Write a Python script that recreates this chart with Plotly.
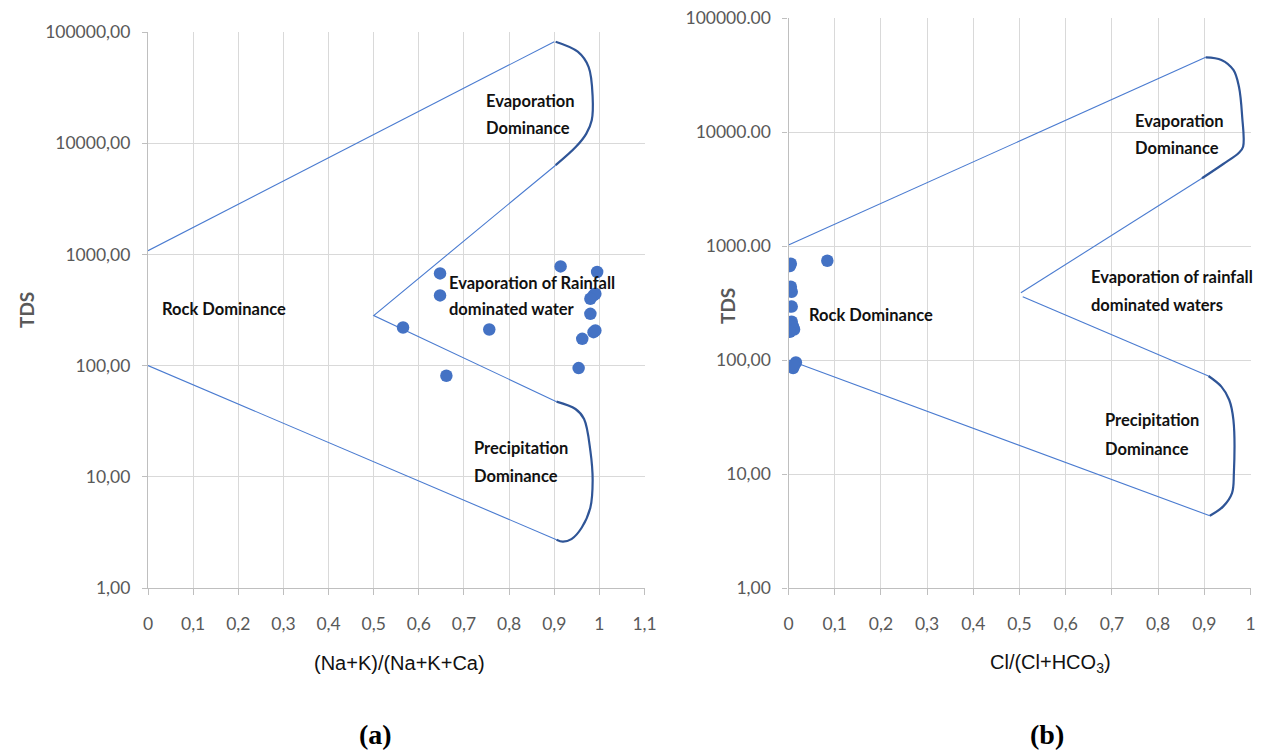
import plotly.graph_objects as go

# ---------------- data: panel (a) ----------------
a_x = [0.647, 0.647, 0.565, 0.661, 0.756, 0.914, 0.995, 0.987, 0.991, 0.980,
       0.980, 0.987, 0.991, 0.962, 0.954]
a_tds = [675, 428, 220, 81, 211, 780, 694, 428, 443, 399,
         292, 200, 207, 174, 95]

a_upper_x = [0.0, 0.9]
a_upper_y = [1080, 81800]
a_evap_x = [0.903, 0.952, 0.976, 0.985, 0.983, 0.971, 0.948, 0.903]
a_evap_y = [81800, 66500, 48600, 26100, 16100, 12200, 9270, 6340]
a_mid_x = [0.903, 0.5, 0.905]
a_mid_y = [6340, 282, 47.4]
a_prec_x = [0.905, 0.947, 0.966, 0.980, 0.985, 0.980, 0.961, 0.938, 0.919, 0.905]
a_prec_y = [47.4, 40.7, 33.1, 17.1, 9.2, 5.3, 3.5, 2.75, 2.61, 2.72]
a_lower_x = [0.0, 0.905]
a_lower_y = [100, 2.72]

a_xticks = [0, 0.1, 0.2, 0.3, 0.4, 0.5, 0.6, 0.7, 0.8, 0.9, 1.0, 1.1]
a_xticktext = ["0", "0,1", "0,2", "0,3", "0,4", "0,5", "0,6", "0,7", "0,8", "0,9", "1", "1,1"]
yticks = [1, 10, 100, 1000, 10000, 100000]
a_yticktext = ["1,00", "10,00", "100,00", "1000,00", "10000,00", "100000,00"]

# ---------------- data: panel (b) ----------------
b_x = [0.003, 0.005, 0.084, 0.003, 0.007, 0.005, 0.007, 0.007, 0.006,
       0.010, 0.012, 0.003, 0.016, 0.010, 0.012]
b_tds = [668, 700, 743, 426, 397, 440, 294, 217, 205,
         196, 185, 177, 95, 85, 90]

b_upper_x = [0.0, 0.903]
b_upper_y = [1020, 45200]
b_evap_x = [0.903, 0.937, 0.963, 0.975, 0.982, 0.984, 0.975, 0.941, 0.895]
b_evap_y = [45200, 42900, 35000, 24900, 13600, 7430, 6580, 5240, 3930]
b_mid1_x = [0.895, 0.503]
b_mid1_y = [3930, 389]
b_mid2_x = [0.507, 0.909]
b_mid2_y = [359, 72.4]
b_prec_x = [0.909, 0.937, 0.954, 0.963, 0.964, 0.960, 0.941, 0.912]
b_prec_y = [72.4, 58.4, 44.6, 29.8, 10.1, 6.8, 5.2, 4.3]
b_lower_x = [0.0, 0.912]
b_lower_y = [100, 4.3]

b_xticks = [0, 0.1, 0.2, 0.3, 0.4, 0.5, 0.6, 0.7, 0.8, 0.9, 1.0]
b_xticktext = ["0", "0,1", "0,2", "0,3", "0,4", "0,5", "0,6", "0,7", "0,8", "0,9", "1"]
b_yticktext = ["1,00", "10,00", "100,00", "1000.00", "10000.00", "100000.00"]

# ---------------- styles ----------------
THIN = dict(color="#4a7bd0", width=1.1)
THICK = dict(color="#2f5597", width=2.2)
MARK = dict(color="#4472c4", size=12.5)
GRID = "#d9d9d9"
AXL = "#bfbfbf"
TICKF = dict(family="Lato", size=17.5, color="#595959")
LBLF = dict(family="Lato", size=16.5, color="#111111")

fig = go.Figure()

def add_line(x, y, style, xa, ya, spline=False):
    fig.add_trace(go.Scatter(x=x, y=y, mode="lines",
                             line=dict(**style, shape="spline" if spline else "linear", smoothing=1.0),
                             xaxis=xa, yaxis=ya, showlegend=False, hoverinfo="skip"))

# panel a
add_line(a_upper_x, a_upper_y, THIN, "x", "y")
add_line(a_mid_x, a_mid_y, THIN, "x", "y")
add_line(a_lower_x, a_lower_y, THIN, "x", "y")
add_line(a_evap_x, a_evap_y, THICK, "x", "y", spline=True)
add_line(a_prec_x, a_prec_y, THICK, "x", "y", spline=True)
fig.add_trace(go.Scatter(x=a_x, y=a_tds, mode="markers", marker=MARK, xaxis="x", yaxis="y", showlegend=False))

# panel b
add_line(b_upper_x, b_upper_y, THIN, "x2", "y2")
add_line(b_mid1_x, b_mid1_y, THIN, "x2", "y2")
add_line(b_mid2_x, b_mid2_y, THIN, "x2", "y2")
add_line(b_lower_x, b_lower_y, THIN, "x2", "y2")
add_line(b_evap_x, b_evap_y, THICK, "x2", "y2", spline=True)
add_line(b_prec_x, b_prec_y, THICK, "x2", "y2", spline=True)
fig.add_trace(go.Scatter(x=b_x, y=b_tds, mode="markers", marker=MARK, xaxis="x2", yaxis="y2", showlegend=False))

W, H = 1266, 752

def xax(domain, rng, tv, tt):
    return dict(domain=domain, range=rng, tickvals=tv, ticktext=tt, showgrid=True, gridcolor=GRID,
                gridwidth=1.2, showline=True, linecolor=AXL, linewidth=1.3, zeroline=False,
                ticks="outside", ticklen=6, tickcolor=AXL, tickfont=TICKF, ticklabelstandoff=14,
                ticklabeloverflow="allow", automargin=False, fixedrange=True)

def yax(domain, tt, anchor):
    return dict(domain=domain, type="log", range=[0, 5], tickvals=yticks, ticktext=tt, showgrid=True,
                gridcolor=GRID, gridwidth=1.2, showline=True, linecolor=AXL, linewidth=1.3, zeroline=False,
                ticks="outside", ticklen=5, tickcolor=AXL, tickfont=TICKF, ticklabelstandoff=8,
                ticklabeloverflow="allow", anchor=anchor, minor=dict(showgrid=False),
                automargin=False, fixedrange=True)

B_END = 1.002
B_LEFT, B_UNIT = 788.5, 462.0
fig.update_layout(
    width=W, height=H, margin=dict(l=0, r=0, t=0, b=0, autoexpand=False),
    paper_bgcolor="white", plot_bgcolor="white",
    xaxis=xax([148 / W, 645 / W], [0, 1.101], a_xticks, a_xticktext) | dict(anchor="y"),
    yaxis=yax([1 - 588 / H, 1 - 32 / H], a_yticktext, "x"),
    xaxis2=xax([B_LEFT / W, (B_LEFT + B_UNIT * B_END) / W], [0, B_END], b_xticks, b_xticktext) | dict(anchor="y2"),
    yaxis2=yax([1 - 588 / H, 1 - 18 / H], b_yticktext, "x2"),
)

ann = []
def lbl(text, x, logy, xr, yr):
    ann.append(dict(text=text, x=x, y=logy, xref=xr, yref=yr, xanchor="left", yanchor="middle",
                    showarrow=False, font=LBLF))

# panel a region labels
lbl("<b>Evaporation</b>", 0.745, 4.378, "x", "y")
lbl("<b>Dominance</b>", 0.745, 4.135, "x", "y")
lbl("<b>Rock Dominance</b>", 0.027, 2.505, "x", "y")
lbl("<b>Evaporation of Rainfall</b>", 0.663, 2.739, "x", "y")
lbl("<b>dominated water</b>", 0.663, 2.505, "x", "y")
lbl("<b>Precipitation</b>", 0.718, 1.261, "x", "y")
lbl("<b>Dominance</b>", 0.718, 1.009, "x", "y")

# panel b region labels
lbl("<b>Evaporation</b>", 0.745, 4.099, "x2", "y2")
lbl("<b>Dominance</b>", 0.745, 3.858, "x2", "y2")
lbl("<b>Evaporation of rainfall</b>", 0.650, 2.728, "x2", "y2")
lbl("<b>dominated waters</b>", 0.650, 2.482, "x2", "y2")
lbl("<b>Rock Dominance</b>", 0.040, 2.395, "x2", "y2")
lbl("<b>Precipitation</b>", 0.680, 1.474, "x2", "y2")
lbl("<b>Dominance</b>", 0.680, 1.219, "x2", "y2")

def ptext(text, px, py, font, angle=0):
    ann.append(dict(text=text, x=px / W, y=1 - py / H, xref="paper", yref="paper", xanchor="center",
                    yanchor="middle", showarrow=False, font=font, textangle=angle))

TITLEF = dict(family="Liberation Sans", size=20, color="#111111")
TDSF = dict(family="Lato", size=19, color="#595959")
PANF = dict(family="Liberation Serif", size=28, color="#000000")

ptext("(Na+K)/(Na+K+Ca)", 399, 663, TITLEF)
ptext("Cl/(Cl+HCO<sub>3</sub>)", 1050, 663, TITLEF)
ptext("<b>TDS</b>", 26, 310, TDSF, -90)
ptext("<b>TDS</b>", 727, 306, TDSF, -90)
ptext("<b>(a)</b>", 376, 734, PANF)
ptext("<b>(b)</b>", 1047, 734, PANF)

fig.update_layout(annotations=ann)
fig.write_html(
    "out.html",
    post_script="document.documentElement.style.overflow='hidden';"
                "document.body.style.margin='0';document.body.style.overflow='hidden';",
)
